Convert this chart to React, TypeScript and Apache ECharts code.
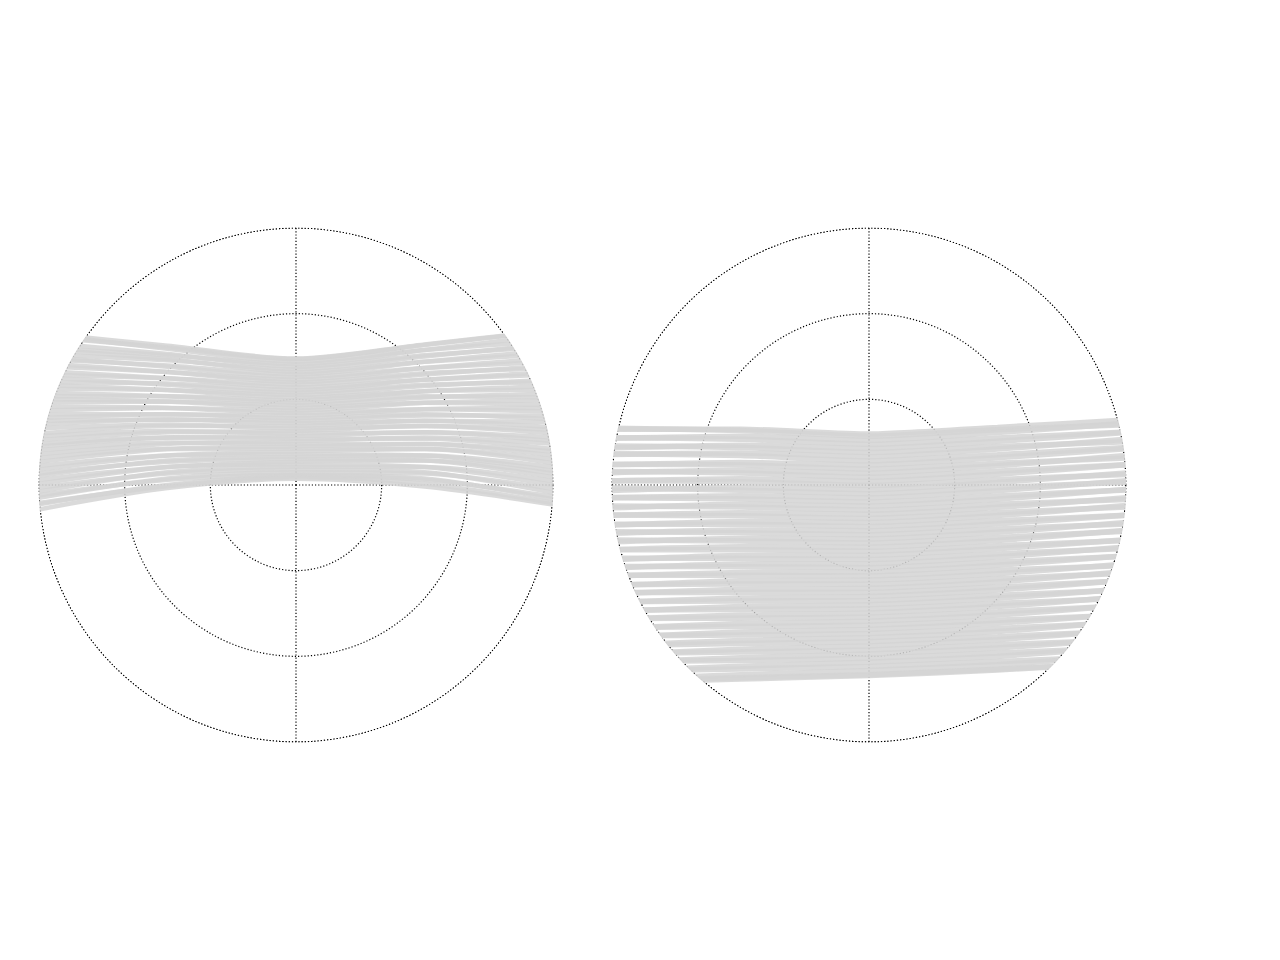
import React, { useEffect, useRef } from "react";
import * as echarts from "echarts";

// x positions (in units of the circle radius) at which each line is sampled
const XS = [-1, -0.5, 0, 0.5, 1];

// Left panel: y values of each line at XS
const LEFT_LINES: number[][] = [
  [0.592, 0.542, 0.492, 0.547, 0.602],
  [0.578, 0.535, 0.49, 0.545, 0.6],
  [0.588, 0.53, 0.48, 0.525, 0.562],
  [0.535, 0.505, 0.47, 0.525, 0.585],
  [0.555, 0.51, 0.46, 0.505, 0.54],
  [0.51, 0.485, 0.45, 0.5, 0.55],
  [0.53, 0.49, 0.44, 0.48, 0.51],
  [0.49, 0.465, 0.43, 0.48, 0.525],
  [0.5, 0.46, 0.42, 0.455, 0.48],
  [0.462, 0.44, 0.41, 0.455, 0.495],
  [0.475, 0.44, 0.4, 0.435, 0.455],
  [0.43, 0.415, 0.39, 0.43, 0.465],
  [0.445, 0.415, 0.38, 0.41, 0.43],
  [0.4, 0.395, 0.37, 0.41, 0.44],
  [0.42, 0.39, 0.36, 0.39, 0.4],
  [0.375, 0.37, 0.35, 0.385, 0.41],
  [0.39, 0.37, 0.34, 0.365, 0.37],
  [0.345, 0.345, 0.33, 0.365, 0.385],
  [0.36, 0.345, 0.32, 0.345, 0.34],
  [0.32, 0.325, 0.31, 0.34, 0.355],
  [0.335, 0.325, 0.3, 0.32, 0.31],
  [0.29, 0.3, 0.29, 0.32, 0.33],
  [0.305, 0.3, 0.28, 0.295, 0.285],
  [0.26, 0.275, 0.27, 0.295, 0.3],
  [0.275, 0.275, 0.26, 0.275, 0.255],
  [0.235, 0.255, 0.25, 0.27, 0.27],
  [0.25, 0.255, 0.24, 0.25, 0.225],
  [0.2, 0.23, 0.23, 0.25, 0.245],
  [0.22, 0.235, 0.22, 0.23, 0.2],
  [0.175, 0.205, 0.21, 0.23, 0.215],
  [0.19, 0.21, 0.2, 0.205, 0.17],
  [0.15, 0.185, 0.19, 0.205, 0.185],
  [0.16, 0.185, 0.18, 0.18, 0.14],
  [0.12, 0.16, 0.17, 0.185, 0.16],
  [0.135, 0.165, 0.16, 0.16, 0.115],
  [0.09, 0.14, 0.15, 0.16, 0.13],
  [0.105, 0.14, 0.14, 0.14, 0.085],
  [0.06, 0.115, 0.13, 0.14, 0.1],
  [0.075, 0.115, 0.12, 0.115, 0.055],
  [0.035, 0.095, 0.11, 0.115, 0.07],
  [0.045, 0.09, 0.1, 0.095, 0.03],
  [0.005, 0.07, 0.09, 0.095, 0.045],
  [0.02, 0.07, 0.08, 0.07, 0.0],
  [-0.025, 0.05, 0.07, 0.07, 0.015],
  [-0.01, 0.045, 0.06, 0.05, -0.03],
  [-0.05, 0.025, 0.05, 0.045, -0.015],
  [-0.04, 0.02, 0.04, 0.025, -0.055],
  [-0.075, 0.0, 0.035, 0.02, -0.045],
  [-0.07, -0.005, 0.03, 0.005, -0.07],
  [-0.095, -0.012, 0.024, -0.006, -0.076],
];

// Right panel: y values of each line at XS
const RIGHT_LINES: number[][] = [
  [0.217, 0.217, 0.198, 0.224, 0.253],
  [0.221, 0.212, 0.19, 0.215, 0.234],
  [0.182, 0.19, 0.174, 0.204, 0.24],
  [0.184, 0.178, 0.158, 0.183, 0.206],
  [0.145, 0.155, 0.142, 0.17, 0.204],
  [0.152, 0.146, 0.126, 0.15, 0.168],
  [0.119, 0.125, 0.11, 0.14, 0.178],
  [0.122, 0.115, 0.094, 0.118, 0.146],
  [0.079, 0.088, 0.078, 0.106, 0.141],
  [0.081, 0.078, 0.062, 0.085, 0.105],
  [0.048, 0.057, 0.046, 0.075, 0.115],
  [0.053, 0.047, 0.03, 0.054, 0.079],
  [0.016, 0.024, 0.014, 0.042, 0.079],
  [0.017, 0.013, -0.002, 0.021, 0.041],
  [-0.021, -0.01, -0.018, 0.01, 0.047],
  [-0.012, -0.02, -0.034, -0.01, 0.011],
  [-0.049, -0.042, -0.05, -0.022, 0.017],
  [-0.05, -0.054, -0.066, -0.043, -0.019],
  [-0.089, -0.075, -0.082, -0.055, -0.017],
  [-0.082, -0.086, -0.098, -0.075, -0.056],
  [-0.118, -0.108, -0.114, -0.087, -0.05],
  [-0.117, -0.12, -0.13, -0.107, -0.086],
  [-0.156, -0.142, -0.146, -0.119, -0.08],
  [-0.153, -0.153, -0.162, -0.139, -0.118],
  [-0.188, -0.175, -0.178, -0.151, -0.118],
  [-0.182, -0.186, -0.194, -0.171, -0.152],
  [-0.221, -0.208, -0.21, -0.184, -0.146],
  [-0.214, -0.218, -0.226, -0.204, -0.18],
  [-0.251, -0.24, -0.242, -0.216, -0.176],
  [-0.252, -0.252, -0.258, -0.236, -0.216],
  [-0.291, -0.274, -0.274, -0.248, -0.213],
  [-0.285, -0.286, -0.29, -0.268, -0.247],
  [-0.322, -0.307, -0.306, -0.28, -0.241],
  [-0.317, -0.318, -0.322, -0.3, -0.277],
  [-0.354, -0.34, -0.338, -0.312, -0.275],
  [-0.351, -0.352, -0.354, -0.332, -0.313],
  [-0.392, -0.373, -0.37, -0.345, -0.307],
  [-0.388, -0.385, -0.386, -0.365, -0.343],
  [-0.423, -0.406, -0.402, -0.377, -0.337],
  [-0.418, -0.418, -0.418, -0.397, -0.373],
  [-0.457, -0.44, -0.434, -0.409, -0.371],
  [-0.454, -0.451, -0.45, -0.429, -0.409],
  [-0.492, -0.473, -0.466, -0.441, -0.404],
  [-0.487, -0.484, -0.482, -0.461, -0.44],
  [-0.522, -0.506, -0.498, -0.473, -0.434],
  [-0.519, -0.518, -0.514, -0.493, -0.47],
  [-0.558, -0.539, -0.53, -0.506, -0.468],
  [-0.555, -0.551, -0.546, -0.526, -0.506],
  [-0.593, -0.572, -0.562, -0.538, -0.502],
  [-0.586, -0.584, -0.578, -0.558, -0.536],
  [-0.625, -0.605, -0.594, -0.57, -0.53],
  [-0.624, -0.617, -0.61, -0.59, -0.568],
  [-0.661, -0.639, -0.626, -0.602, -0.564],
  [-0.655, -0.65, -0.642, -0.622, -0.602],
  [-0.692, -0.672, -0.658, -0.634, -0.599],
  [-0.687, -0.683, -0.674, -0.654, -0.633],
  [-0.724, -0.705, -0.69, -0.667, -0.629],
  [-0.723, -0.716, -0.706, -0.687, -0.665],
  [-0.758, -0.738, -0.722, -0.699, -0.665],
  [-0.762, -0.75, -0.738, -0.717, -0.692],
  [-0.77, -0.755, -0.741, -0.72, -0.69],
];

// Polar grid: radius rings (3) and angular spokes every 90 degrees
const RADIUS_MAX = 3;
const ANGLE_STEP = 90;

const R = 257;
const CY = 485;
const CX_LEFT = 296;
const CX_RIGHT = 869;

const dot = { color: "#000", width: 1.2, type: [1.2, 2] as number[] };

export default function App() {
  const ref = useRef<HTMLDivElement>(null);

  useEffect(() => {
    if (!ref.current) return;
    const chart = echarts.init(ref.current, null, { renderer: "svg" });

    const panels = [
      { cx: CX_RIGHT, lines: RIGHT_LINES, zBase: 1, width: 5.5, ring: 340, smooth: 0.2 },
      { cx: CX_LEFT, lines: LEFT_LINES, zBase: 4, width: 4.5, ring: 307, smooth: 0.3 },
    ];

    const grid: any[] = [];
    const xAxis: any[] = [];
    const yAxis: any[] = [];
    const polar: any[] = [];
    const angleAxis: any[] = [];
    const radiusAxis: any[] = [];
    const series: any[] = [];
    const graphic: any[] = [];

    panels.forEach((p, i) => {
      grid.push({ left: p.cx - R, top: CY - R, width: 2 * R, height: 2 * R, show: false });
      xAxis.push({ gridIndex: i, type: "value", min: -1, max: 1, show: false });
      yAxis.push({ gridIndex: i, type: "value", min: -1, max: 1, show: false });
      polar.push({ center: [p.cx, CY], radius: R });
      angleAxis.push({
        polarIndex: i,
        type: "value",
        min: 0,
        max: 360,
        interval: ANGLE_STEP,
        startAngle: 90,
        z: p.zBase,
        axisLine: { show: true, lineStyle: dot },
        axisTick: { show: false },
        axisLabel: { show: false },
        splitLine: { show: true, lineStyle: dot },
      });
      radiusAxis.push({
        polarIndex: i,
        type: "value",
        min: 0,
        max: RADIUS_MAX,
        interval: 1,
        z: p.zBase,
        axisLine: { show: false },
        axisTick: { show: false },
        axisLabel: { show: false },
        splitLine: { show: true, lineStyle: dot },
      });
      series.push({
        type: "line",
        coordinateSystem: "polar",
        polarIndex: i,
        data: [],
        silent: true,
      });
      p.lines.forEach((row) => {
        series.push({
          type: "line",
          xAxisIndex: i,
          yAxisIndex: i,
          data: XS.map((x, k) => [x, row[k]]),
          showSymbol: false,
          symbol: "none",
          smooth: p.smooth,
          silent: true,
          z: p.zBase + 1,
          lineStyle: { color: "#d3d3d3", width: p.width, opacity: 0.85 },
          emphasis: { disabled: true },
        });
      });
      graphic.push({
        type: "ring",
        z: p.zBase + 2,
        silent: true,
        shape: { cx: p.cx, cy: CY, r: p.ring, r0: R + 0.5 },
        style: { fill: "#ffffff" },
      });
    });

    chart.setOption({
      animation: false,
      backgroundColor: "#ffffff",
      grid,
      xAxis,
      yAxis,
      polar,
      angleAxis,
      radiusAxis,
      series,
      graphic: { elements: graphic },
    });

    return () => chart.dispose();
  }, []);

  return (
    <div
      ref={ref}
      style={{ position: "fixed", left: 0, top: 0, width: 1280, height: 960 }}
    />
  );
}
